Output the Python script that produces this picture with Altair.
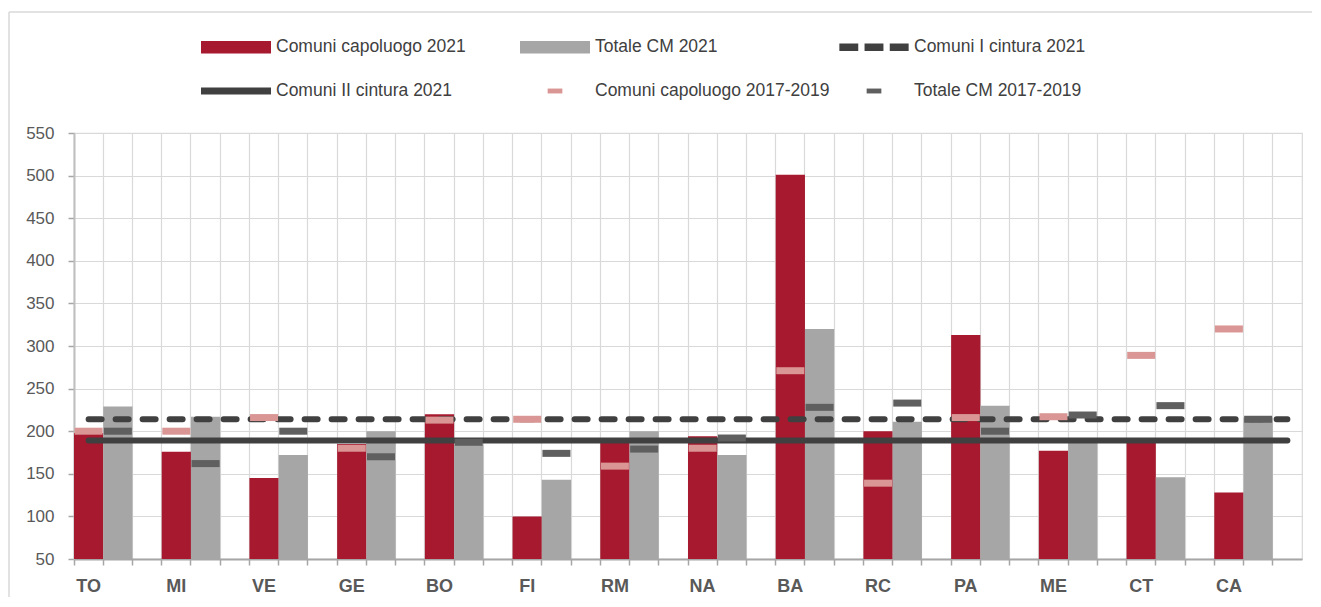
import altair as alt
import pandas as pd

# ---------------- data ----------------
cities = ["TO", "MI", "VE", "GE", "BO", "FI", "RM", "NA", "BA", "RC", "PA", "ME", "CT", "CA"]
capoluogo_2021 = [198, 176, 145, 185, 220, 100, 189, 194, 501, 200, 313, 177, 189, 128]
totale_cm_2021 = [229, 217, 172, 200, 184, 143, 200, 172, 320, 211, 230, 188, 146, 216]
capoluogo_2017_2019 = [200, 200, 216, 180, 213, 214, 159, 180, 271, 139, 216, 217, 289, 320]
totale_cm_2017_2019 = [200, 162, 200, 170, 187, 174, 179, 192, 228, 233, 200, 219, 230, 214]
cintura1_2021 = 214
cintura2_2021 = 189
y_ticks = [50, 100, 150, 200, 250, 300, 350, 400, 450, 500, 550]

series_names = [
    "Comuni capoluogo 2021",
    "Totale CM 2021",
    "Comuni I cintura 2021",
    "Comuni II cintura 2021",
    "Comuni capoluogo 2017-2019",
    "Totale CM 2017-2019",
]

# ---------------- styles ----------------
RED = "#A6192E"
GREY = "#A6A6A6"
LINE = "#404040"
PINK = "#D99694"
DARK = "#5F5F5F"
FONT = "Liberation Sans"
W, H = 1228, 426
series_colors = [RED, GREY, LINE, LINE, PINK, DARK]


def box(a, b, h):
    return f"M{a},{-h}L{b},{-h}L{b},{h}L{a},{h}Z"


bar_key = box(-1, 1, 0.176)
dash_key = " ".join(box(round(c - 0.27, 3), round(c + 0.27, 3), 0.11) for c in (-0.72, 0.0, 0.72))
solid_key = box(-1, 1, 0.1)
small_key = box(-0.21, 0.21, 0.07)
series_shapes = [bar_key, bar_key, dash_key, solid_key, small_key, small_key]

# slots: each city takes three equal slots (capoluogo, totale, gap)
slots = [f"{c}|{k}" for c in cities for k in range(3)]

cap_df = pd.DataFrame({"slot": [f"{c}|0" for c in cities], "v": capoluogo_2021})
tot_df = pd.DataFrame({"slot": [f"{c}|1" for c in cities], "v": totale_cm_2021})
pink_df = pd.DataFrame({"slot": [f"{c}|0" for c in cities], "v": capoluogo_2017_2019})
dark_df = pd.DataFrame({"slot": [f"{c}|1" for c in cities], "v": totale_cm_2017_2019})
c1_df = pd.DataFrame({"slot": [slots[0], slots[-1]], "v": [cintura1_2021, cintura1_2021]})
c2_df = pd.DataFrame({"slot": [slots[0], slots[-1]], "v": [cintura2_2021, cintura2_2021]})
legend_df = pd.DataFrame({"series": series_names})

x_scale = alt.Scale(type="band", domain=slots, paddingInner=0, paddingOuter=0)
y_scale = alt.Scale(domain=[50, 550], nice=False, zero=False)

x_axis = alt.Axis(
    title=None,
    labelExpr="indexof(datum.value, '|0') > 0 ? split(datum.value, '|')[0] : ''",
    labelAngle=0,
    labelOverlap=False,
    labelFont=FONT,
    labelFontWeight="bold",
    labelFontSize=18,
    labelColor="#595959",
    labelPadding=12,
    bandPosition=0,
    tickSize=6,
    tickWidth=1.5,
    tickColor=GREY,
    domainColor=GREY,
    domainWidth=2,
    grid=True,
    gridColor="#D9D9D9",
    gridWidth=1.2,
)
y_axis = alt.Axis(
    title=None,
    values=y_ticks,
    labelFont=FONT,
    labelFontSize=17,
    labelColor="#595959",
    labelPadding=14,
    tickSize=6,
    tickWidth=1.5,
    tickColor=GREY,
    domainColor="#BFBFBF",
    domainWidth=2,
    grid=True,
    gridColor="#D9D9D9",
    gridWidth=1.2,
)

X = alt.X("slot:N", scale=x_scale, axis=x_axis)
Y = alt.Y("v:Q", scale=y_scale, axis=y_axis)
BASE = alt.Y2(datum=50)

# outer chart frame (decoration): top and left border lines
frame_src = alt.Data(values=[{"f": 1}])
frame_top = alt.Chart(frame_src).mark_rule(color="#D9D9D9", strokeWidth=1.5).encode(
    x=alt.value(-65), x2=alt.value(W + 10), y=alt.value(-121)
)
frame_left = alt.Chart(frame_src).mark_rule(color="#D9D9D9", strokeWidth=1.5).encode(
    x=alt.value(-65), y=alt.value(-121), y2=alt.value(H + 38)
)

bars_cap = alt.Chart(cap_df).mark_bar(color=RED).encode(x=X, y=Y, y2=BASE)
bars_tot = alt.Chart(tot_df).mark_bar(color=GREY).encode(x=X, y=Y, y2=BASE)

line1 = alt.Chart(c1_df).mark_line(
    color=LINE, strokeWidth=6, strokeCap="round", strokeDash=[13, 14]
).encode(x=X, y=Y)
line2 = alt.Chart(c2_df).mark_line(
    color=LINE, strokeWidth=6, strokeCap="round"
).encode(x=X, y=Y)

pink = alt.Chart(pink_df).mark_tick(
    orient="horizontal", size=28, thickness=7, color=PINK, opacity=1
).encode(x=X, y=Y)
dark = alt.Chart(dark_df).mark_tick(
    orient="horizontal", size=28, thickness=7, color=DARK, opacity=1
).encode(x=X, y=Y)

leg = alt.Legend(
    title=None,
    orient="none",
    direction="horizontal",
    legendX=127,
    legendY=-121,
    columns=3,
    gridAlign="all",
    columnPadding=9,
    rowPadding=-5,
    padding=0,
    labelFont=FONT,
    labelFontSize=17.5,
    labelColor="#404040",
    labelLimit=400,
    labelOffset=5,
    symbolSize=4900,
    symbolStrokeWidth=0,
    symbolOpacity=1,
)
legend_layer = alt.Chart(legend_df).transform_filter("false").mark_point(
    filled=True, opacity=1, size=4900
).encode(
    color=alt.Color("series:N", scale=alt.Scale(domain=series_names, range=series_colors), legend=leg),
    shape=alt.Shape("series:N", scale=alt.Scale(domain=series_names, range=series_shapes), legend=leg),
)

chart = (
    alt.layer(frame_top, frame_left, bars_cap, bars_tot, line1, line2, pink, dark, legend_layer)
    .properties(
        width=W,
        height=H,
        padding={"left": 0, "top": 3, "right": 0, "bottom": 0},
        background="white",
    )
    .configure_view(stroke="#D9D9D9", strokeWidth=1.2)
)

chart.save("out.html", embed_options={"renderer": "svg", "actions": False})
